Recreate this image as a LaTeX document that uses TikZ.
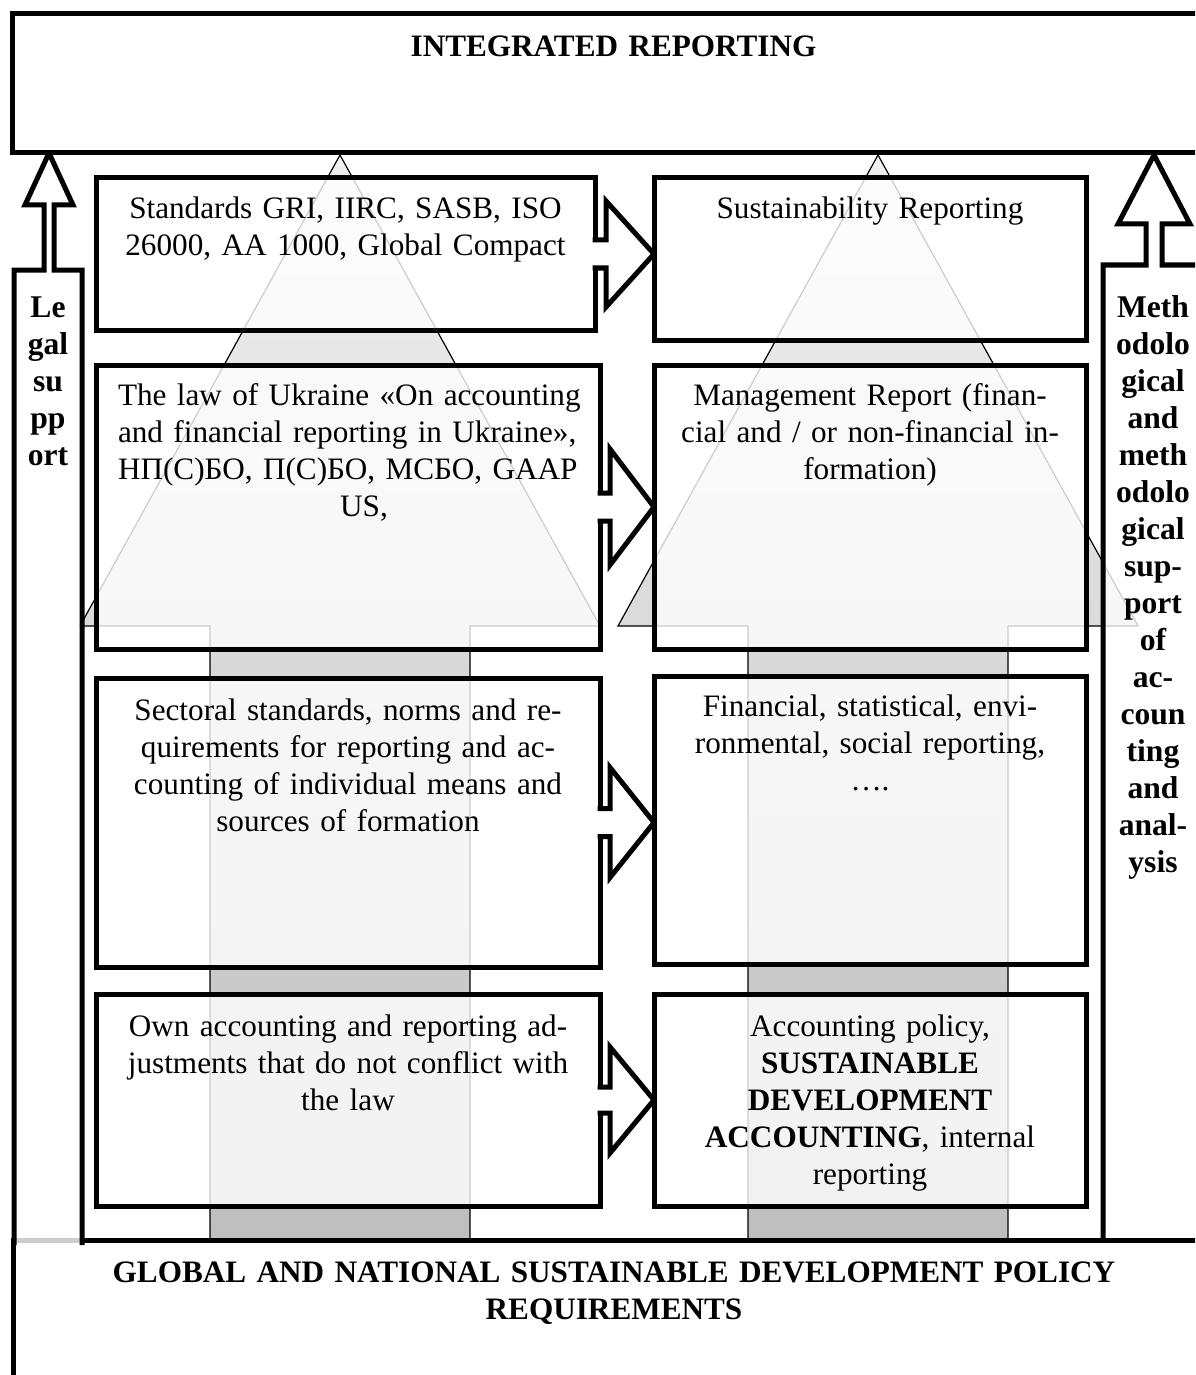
\documentclass[tikz,border=0pt]{standalone}
\usepackage{fontspec}
\setmainfont{Liberation Serif}
\usetikzlibrary{calc,positioning}

\definecolor{gtop}{RGB}{240,240,240}
\definecolor{gbot}{RGB}{190,190,190}

\tikzset{
  frame/.style={draw, line width=2.5pt, fill=white, outer sep=0pt, inner sep=0pt},
  box/.style={draw, line width=2.5pt, fill=white, fill opacity=0.8, outer sep=0pt, inner sep=0pt},
  support/.style={draw, line width=2.5pt, fill=white, fill opacity=0.8},
  flow/.style={draw, line width=2.5pt, fill=white},
  grey arrow/.style={top color=gtop, bottom color=gbot, draw=black, line width=0.6pt},
  txt/.style={align=center, inner sep=0pt, anchor=base, font=\fontsize{15.6}{18.5}\selectfont},
  ltxt/.style={txt, text width=240pt},
  rtxt/.style={txt, text width=210pt},
  stxt/.style={txt, text width=46pt, font=\fontsize{15.8}{18.5}\selectfont\bfseries}
}

\begin{document}
\frenchspacing
\begin{tikzpicture}[x=0.5pt,y=-0.5pt]
    \useasboundingbox (0,0) rectangle (1195,1375);
    \clip (0,0) rectangle (1195,1375);

    % big grey arrows behind the boxes
    \shadedraw[grey arrow] (210,1240) -- (210,626) -- (80,626) -- (340,155) -- (600,626) -- (470,626) -- (470,1240) -- cycle;
    \shadedraw[grey arrow] (748,1240) -- (748,626) -- (618,626) -- (878,155) -- (1138,626) -- (1008,626) -- (1008,1240) -- cycle;

    % left column
    \node[box, minimum width=249.5pt, minimum height=76pt] (std) at (345.5,254) {};
    \node[box, minimum width=252pt, minimum height=142pt] (law) at (348,507) {};
    \node[box, minimum width=252pt, minimum height=144.5pt] (sect) at (348,822.5) {};
    \node[box, minimum width=252pt, minimum height=106pt] (own) at (348,1100) {};

    % right column
    \node[box, minimum width=216pt, minimum height=81pt] (sust) at (870,259) {};
    \node[box, minimum width=216pt, minimum height=142pt] (mgmt) at (870,507) {};
    \node[box, minimum width=216pt, minimum height=144pt] (fin) at (870,820) {};
    \node[box, minimum width=216pt, minimum height=106pt] (pol) at (870,1100) {};

    % block arrows between the columns
    \filldraw[flow] ($(std.east)+(-2.5,-14)$) -- ($(std.east)+(11,-14)$) -- ($(std.east)+(11,-53)$) -- (std.east -| sust.west) -- ($(std.east)+(11,53)$) -- ($(std.east)+(11,14)$) -- ($(std.east)+(-2.5,14)$);
    \filldraw[flow] ($(law.east)+(-2.5,-14)$) -- ($(law.east)+(10,-14)$) -- ($(law.east)+(10,-58)$) -- (law.east -| mgmt.west) -- ($(law.east)+(10,58)$) -- ($(law.east)+(10,14)$) -- ($(law.east)+(-2.5,14)$);
    \filldraw[flow] ($(sect.east)+(-2.5,-14)$) -- ($(sect.east)+(10,-14)$) -- ($(sect.east)+(10,-55)$) -- (sect.east -| fin.west) -- ($(sect.east)+(10,55)$) -- ($(sect.east)+(10,14)$) -- ($(sect.east)+(-2.5,14)$);
    \filldraw[flow] ($(own.east)+(-2.5,-13)$) -- ($(own.east)+(10,-13)$) -- ($(own.east)+(10,-53)$) -- (own.east -| pol.west) -- ($(own.east)+(10,53)$) -- ($(own.east)+(10,13)$) -- ($(own.east)+(-2.5,13)$);

    % methodological support arrow
    \filldraw[support] (1103,1240) -- (1103,265) -- (1146,265) -- (1146,224) -- (1118,224) -- (1154,155) -- (1190,224) -- (1162,224) -- (1162,265) -- (1210,265) -- (1210,1240);

    % bottom and top frames
    \node[frame, minimum width=601pt, minimum height=80pt] (req) at (614,1320) {};
    \filldraw[support] (14,1245) -- (14,270) -- (44,270) -- (44,205) -- (25,205) -- (49,153) -- (73,205) -- (54,205) -- (54,270) -- (82,270) -- (82,1245);
    \node[frame, minimum width=601.5pt, minimum height=69.5pt] (ir) at (613.5,83.5) {};

    % texts
    \node[txt, text width=560pt] (irtext) at ($(ir.north)+(0,43)$) {\textbf{INTEGRATED REPORTING}};
    \node[txt, text width=560pt] (reqtext) at ($(req.north)+(0,42)$) {\textbf{GLOBAL AND NATIONAL SUSTAINABLE DEVELOPMENT POLICY}\\\textbf{REQUIREMENTS}};

    \node[ltxt] (stdtext) at ($(std.north)+(0,41)$) {Standards GRI, IIRC, SASB, ISO\\26000, AA 1000, Global Compact};
    \node[ltxt] (lawtext) at ($(law.north)+(0,40)$) {\makebox[230pt][s]{The law of Ukraine «On accounting}\\\makebox[230pt][s]{and financial reporting in Ukraine»,}\\\makebox[230pt][s]{НП(С)БО, П(С)БО, МСБО, GAAP}\\\hspace*{16pt}US,};
    \node[ltxt] (secttext) at ($(sect.north)+(0,42)$) {Sectoral standards, norms and re-\\quirements for reporting and ac-\\counting of individual means and\\sources of formation};
    \node[ltxt] (owntext) at ($(own.north)+(0,42)$) {Own accounting and reporting ad-\\justments that do not conflict with\\the law};

    \node[rtxt] (susttext) at ($(sust.north)+(0,41)$) {Sustainability Reporting};
    \node[rtxt] (mgmttext) at ($(mgmt.north)+(0,40)$) {Management Report (finan-\\cial and / or non-financial in-\\formation)};
    \node[rtxt] (fintext) at ($(fin.north)+(0,40)$) {Financial, statistical, envi-\\ronmental, social reporting,\\….};
    \node[rtxt] (poltext) at ($(pol.north)+(0,42)$) {Accounting policy,\\\textbf{SUSTAINABLE}\\\textbf{DEVELOPMENT}\\\textbf{ACCOUNTING}, internal\\reporting};

    \node[stxt] (legal) at (48,317) {Le\\gal\\su\\pp\\ort};
    \node[stxt] (method) at (1153,317) {Meth\\odolo\\gical\\and\\meth\\odolo\\gical\\sup-\\port\\of\\ac-\\coun\\ting\\and\\anal-\\ysis};

\end{tikzpicture}
\end{document}
